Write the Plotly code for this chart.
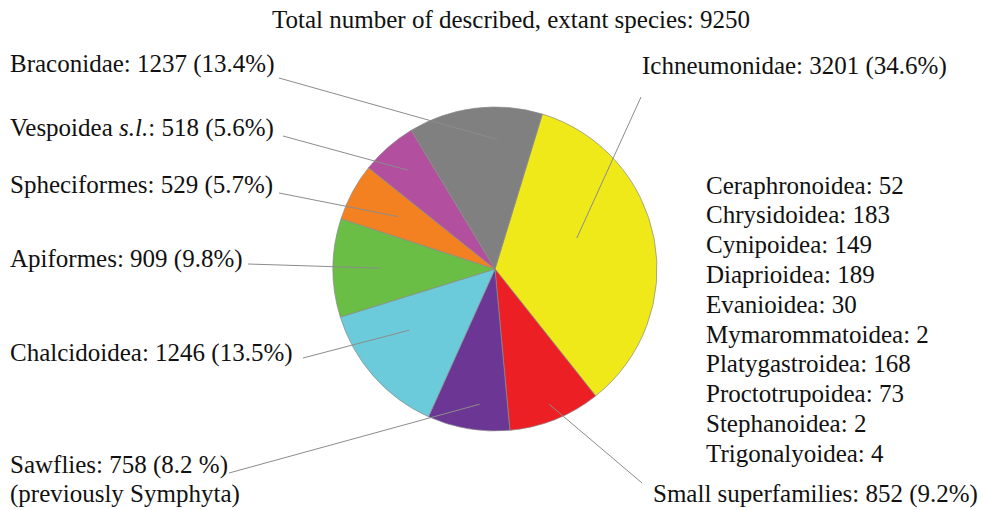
import math
import plotly.graph_objects as go

# ---- data -------------------------------------------------------------
groups = ["Ichneumonidae", "Small superfamilies", "Sawflies", "Chalcidoidea",
          "Apiformes", "Spheciformes", "Vespoidea <i>s.l.</i>", "Braconidae"]
species = [3201, 852, 758, 1246, 909, 529, 518, 1237]
percent_labels = ["34.6%", "9.2%", "8.2 %", "13.5%", "9.8%", "5.7%", "5.6%", "13.4%"]

small_names = ["Ceraphronoidea", "Chrysidoidea", "Cynipoidea", "Diaprioidea",
               "Evanioidea", "Mymarommatoidea", "Platygastroidea",
               "Proctotrupoidea", "Stephanoidea", "Trigonalyoidea"]
small_counts = [52, 183, 149, 189, 30, 2, 168, 73, 2, 4]

total_species = 9250

# ---- styling / layout -------------------------------------------------
W, H = 983, 510
SERIF = "Tinos"
FS = 25
slice_colors = ["#F0E919", "#EC2024", "#6C3794", "#6BCBDB",
                "#6ABD45", "#F38121", "#B24F9E", "#808080"]
START_DEG = 17.0
CX, CY, R = 495, 269, 162  # pie centre and radius in pixels

# label placement (pixels): text left edge / centre line, leader start,
# fraction of radius for the inner end, angular nudge from slice middle
label_cfg = {
    "Ichneumonidae":       dict(tx=640, ty=66,  lx=641, ly=97,  f=0.54, da=-10),
    "Small superfamilies": dict(tx=651, ty=494, lx=642, ly=483, f=0.90, da=0),
    "Sawflies":            dict(tx=8,   ty=465, lx=229, ly=473, f=0.84, da=-3),
    "Chalcidoidea":        dict(tx=8,   ty=353, lx=303, ly=358, f=0.65, da=6),
    "Apiformes":           dict(tx=8,   ty=259, lx=248, ly=264, f=0.71, da=0),
    "Spheciformes":        dict(tx=8,   ty=185, lx=279, ly=193, f=0.68, da=0),
    "Vespoidea <i>s.l.</i>": dict(tx=8, ty=128, lx=283, ly=136, f=0.81, da=0),
    "Braconidae":          dict(tx=8,   ty=64,  lx=279, ly=78,  f=0.80, da=8),
}


def px(x):
    return x / W


def py(y):
    return 1 - y / H


fig = go.Figure(go.Pie(
    labels=groups,
    values=species,
    sort=False,
    direction="clockwise",
    rotation=START_DEG,
    marker=dict(colors=slice_colors, line=dict(color="#8a8a8a", width=0.7)),
    textinfo="none",
    hoverinfo="label+value+percent",
    showlegend=False,
    domain=dict(x=[px(CX - R), px(CX + R)], y=[py(CY + R), py(CY - R)]),
))


def add_text(text, x, y, anchor="left"):
    fig.add_annotation(text=text, x=px(x), y=py(y), xref="paper", yref="paper",
                       xanchor=anchor, yanchor="middle", showarrow=False,
                       font=dict(family=SERIF, size=FS, color="#111111"))


# slice labels and leader lines
cum = 0
for name, val, pct in zip(groups, species, percent_labels):
    cfg = label_cfg[name]
    mid = START_DEG + 360 * (cum + val / 2) / total_species + cfg["da"]
    cum += val
    ex = CX + cfg["f"] * R * math.sin(math.radians(mid))
    ey = CY - cfg["f"] * R * math.cos(math.radians(mid))
    fig.add_shape(type="line", xref="paper", yref="paper",
                  x0=px(cfg["lx"]), y0=py(cfg["ly"]), x1=px(ex), y1=py(ey),
                  line=dict(color="#8c8c8c", width=1))
    add_text(f"{name}: {val} ({pct})", cfg["tx"], cfg["ty"])

add_text("(previously Symphyta)", 8, 494)

# breakdown of the small superfamilies
for i, (n, c) in enumerate(zip(small_names, small_counts)):
    add_text(f"{n}: {c}", 704, 185 + i * 29.8)

# heading
add_text(f"Total number of described, extant species: {total_species}", 511, 20,
         anchor="center")

fig.update_layout(
    template="none",
    width=W, height=H,
    margin=dict(l=0, r=0, t=0, b=0),
    paper_bgcolor="white", plot_bgcolor="white",
    font=dict(family=SERIF, size=FS, color="#111111"),
    showlegend=False,
)

fig.write_html("out.html")
